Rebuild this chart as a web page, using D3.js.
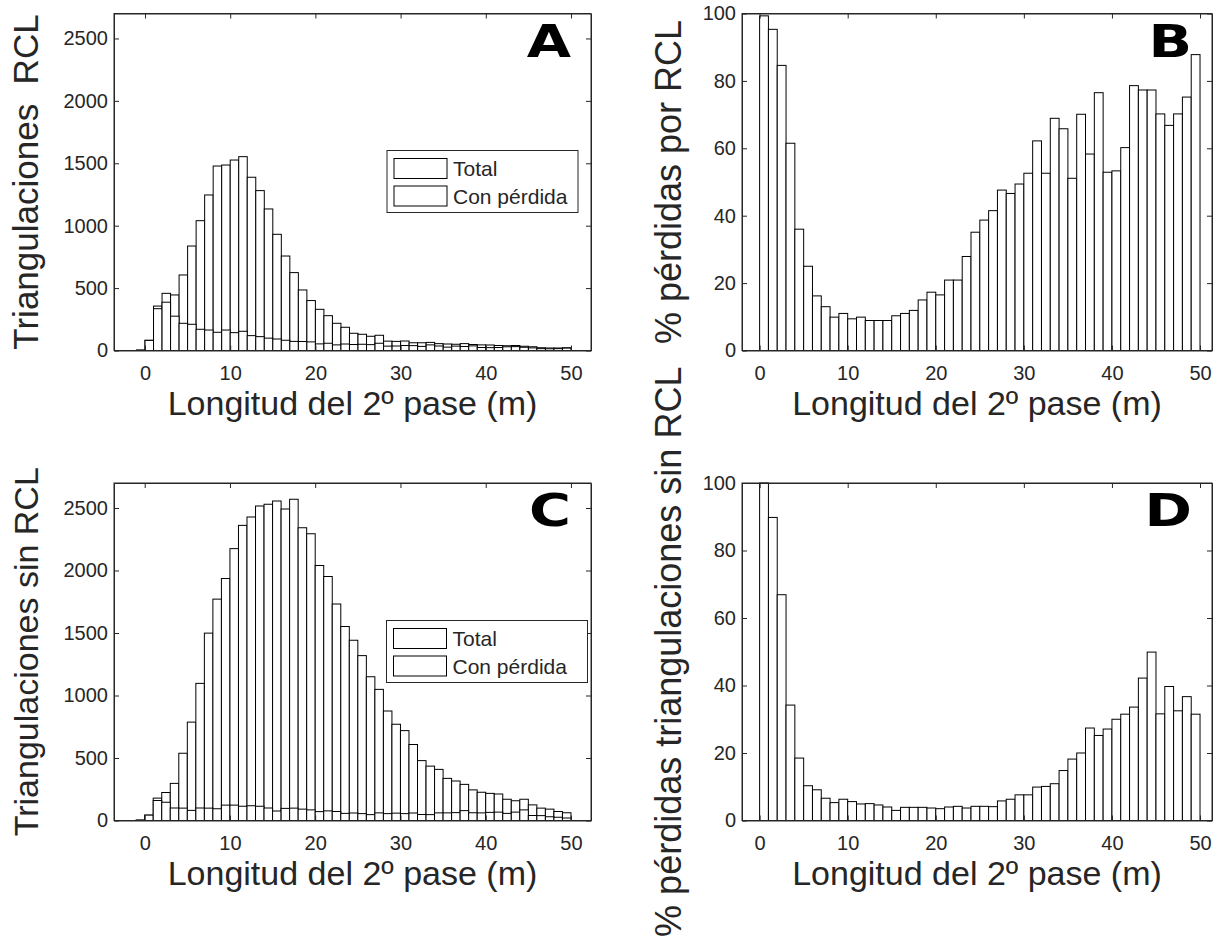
<!DOCTYPE html>
<html>
<head>
<meta charset="utf-8">
<script src="https://cdn.jsdelivr.net/npm/d3@7"></script>
<style>
  body { margin: 0; background: #fff; }
  text { font-family: "Liberation Sans", Arial, sans-serif; fill: #262626; }
  .letra { font-family: "DejaVu Sans", sans-serif; font-weight: bold; fill: #000; }
</style>
</head>
<body>
<div id="grafico"></div>
<script>
// Borde izquierdo de cada intervalo (m), ancho 1 m
const bordes = [-1, 0, 1, 2, 3, 4, 5, 6, 7, 8, 9, 10, 11, 12, 13, 14, 15, 16, 17, 18, 19,
  20, 21, 22, 23, 24, 25, 26, 27, 28, 29, 30, 31, 32, 33, 34, 35, 36, 37, 38, 39,
  40, 41, 42, 43, 44, 45, 46, 47, 48, 49]

// A: triangulaciones con RCL
const totalRCL = [5, 82, 356, 458, 445, 605, 837, 1040, 1246, 1478, 1486, 1526, 1553, 1388, 1281, 1134,
  931, 757, 624, 485, 400, 330, 279, 218, 186, 138, 130, 114, 122, 75, 73, 76, 62, 62, 65, 55,
  52, 50, 55, 48, 45, 44, 40, 38, 40, 34, 30, 22, 20, 20, 22]
const perdidaRCL = [0, 81, 335, 387, 275, 218, 210, 170, 164, 146, 164, 143, 154, 119, 111, 99,
  92, 82, 73, 72, 69, 53, 58, 45, 52, 48, 50, 47, 58, 35, 36, 40, 39, 33, 45, 36,
  27, 35, 32, 37, 24, 23, 24, 30, 31, 26, 21, 15, 14, 15, 19]

// B: % pérdidas por RCL
const pctRCL = [0, 99.3, 95.3, 84.6, 61.5, 36.0, 25.0, 16.2, 13.0, 9.9, 11.0, 9.4, 9.9, 8.9, 8.9, 8.9,
  10.3, 11.0, 11.9, 15.0, 17.3, 16.5, 20.9, 20.9, 27.9, 35.1, 38.7, 41.5, 47.6, 46.6, 49.4,
  52.6, 62.2, 52.6, 68.9, 65.8, 51.1, 70.1, 58.3, 76.5, 52.9, 53.3, 60.2, 78.6, 77.3, 77.3,
  70.2, 66.8, 70.2, 75.2, 87.8]

// C: triangulaciones sin RCL
const totalSin = [5, 43, 179, 224, 297, 538, 787, 1097, 1499, 1771, 1936, 2175, 2361, 2428, 2516, 2530,
  2556, 2492, 2570, 2342, 2294, 2040, 1952, 1732, 1552, 1442, 1319, 1150, 1049, 876, 770, 719,
  608, 479, 435, 409, 337, 316, 289, 245, 226, 217, 212, 170, 158, 170, 125, 99, 91, 72, 62]
const perdidaSin = [0, 43, 160, 146, 100, 99, 81, 100, 99, 94, 123, 123, 114, 118, 114, 100,
  76, 97, 99, 91, 85, 71, 77, 72, 57, 60, 55, 47, 61, 55, 59, 55, 60, 48, 47, 61,
  61, 63, 79, 62, 61, 65, 67, 57, 67, 85, 40, 39, 30, 26, 20]

// D: % pérdidas triangulaciones sin RCL
const pctSin = [0, 100, 89.8, 66.9, 34.2, 18.5, 10.3, 9.1, 6.6, 5.3, 6.3, 5.6, 4.9, 5.0, 4.6, 4.0,
  3.0, 3.9, 3.9, 3.9, 3.7, 3.5, 4.0, 4.2, 3.7, 4.2, 4.2, 4.1, 5.8, 6.3, 7.6, 7.6, 9.9, 10.1,
  10.9, 14.8, 18.2, 20.0, 27.4, 25.2, 27.1, 30.0, 31.5, 33.6, 42.2, 49.9, 31.6, 39.7, 32.5, 36.7, 31.5]

// Ticks
const ticksX = [0, 10, 20, 30, 40, 50]
const ticksConteo = [0, 500, 1000, 1500, 2000, 2500]
const ticksPct = [0, 20, 40, 60, 80, 100]
const leyendaTextos = ['Total', 'Con pérdida']

const ANCHO = 1220
const ALTO = 937
const GRIS = '#262626'

let svg = d3.select('#grafico').append('svg')
  .attr('width', ANCHO)
  .attr('height', ALTO)

// Dibuja un panel completo (barras, ejes, etiquetas)
function panel(cfg){
  let x = d3.scaleLinear().domain(cfg.dx).range([cfg.x0, cfg.x1])
  let y = d3.scaleLinear().domain([0, cfg.ymax]).range([cfg.y1, cfg.y0])
  let g = svg.append('g')

  // barras: primero el total, encima las de pérdida
  cfg.series.forEach(serie => {
    g.append('g').selectAll('rect')
      .data(serie)
      .enter().append('rect')
      .attr('x', (d, i) => x(bordes[i]))
      .attr('width', (d, i) => x(bordes[i] + 1) - x(bordes[i]))
      .attr('y', d => y(d))
      .attr('height', d => y(0) - y(d))
      .attr('fill', '#fff')
      .attr('stroke', '#000')
      .attr('stroke-width', 1)
  })

  // ejes con ticks hacia dentro
  g.append('g')
    .attr('transform', `translate(0,${cfg.y1})`)
    .call(d3.axisBottom(x).tickValues(ticksX).tickSizeInner(-5).tickSizeOuter(0).tickPadding(15))
    .attr('font-size', 20).attr('color', GRIS)

  g.append('g')
    .attr('transform', `translate(0,${cfg.y0})`)
    .call(d3.axisTop(x).tickValues(ticksX).tickSizeInner(-5).tickSizeOuter(0).tickFormat(''))
    .attr('color', GRIS)

  g.append('g')
    .attr('transform', `translate(${cfg.x0},0)`)
    .call(d3.axisLeft(y).tickValues(cfg.ticksY).tickSizeInner(-5).tickSizeOuter(0)
      .tickPadding(6).tickFormat(d3.format('d')))
    .attr('font-size', 20).attr('color', GRIS)

  g.append('g')
    .attr('transform', `translate(${cfg.x1},0)`)
    .call(d3.axisRight(y).tickValues(cfg.ticksY).tickSizeInner(-5).tickSizeOuter(0).tickFormat(''))
    .attr('color', GRIS)

  // caja
  g.append('rect')
    .attr('x', cfg.x0).attr('y', cfg.y0)
    .attr('width', cfg.x1 - cfg.x0).attr('height', cfg.y1 - cfg.y0)
    .attr('fill', 'none').attr('stroke', GRIS)

  // etiqueta eje X
  g.append('text')
    .attr('x', (cfg.x0 + cfg.x1) / 2)
    .attr('y', cfg.y1 + 64)
    .attr('text-anchor', 'middle')
    .attr('font-size', 34)
    .text('Longitud del 2º pase (m)')

  // etiqueta eje Y
  g.append('text')
    .attr('transform', `translate(${cfg.ylabX},${(cfg.y0 + cfg.y1) / 2}) rotate(-90)`)
    .attr('text-anchor', 'middle')
    .attr('font-size', cfg.ylabSize)
    .style('white-space', 'pre')
    .text(cfg.ylabel)

  // letra del panel (ancha)
  g.append('text')
    .attr('class', 'letra')
    .attr('transform', `translate(${cfg.x1 - 20},${cfg.y0 + 43}) scale(1.3,1)`)
    .attr('text-anchor', 'end')
    .attr('font-size', 44)
    .text(cfg.letra)

  if(cfg.leyenda) leyenda(cfg.leyenda)
}

// Leyenda con dos cuadros blancos
function leyenda(p){
  let g = svg.append('g')
  g.append('rect')
    .attr('x', p.x).attr('y', p.y)
    .attr('width', p.w).attr('height', 62)
    .attr('fill', '#fff').attr('stroke', GRIS)
  leyendaTextos.forEach((t, i) => {
    g.append('rect')
      .attr('x', p.x + 7).attr('y', p.y + 8 + i * 27.5)
      .attr('width', 53).attr('height', 20)
      .attr('fill', '#fff').attr('stroke', '#000')
    g.append('text')
      .attr('x', p.x + 66).attr('y', p.y + 25.5 + i * 27.5)
      .attr('font-size', 21)
      .attr('fill', '#000')
      .text(t)
  })
}

panel({ x0: 114, x1: 591, y0: 13.5, y1: 350.5, dx: [-3.64, 52.35], ymax: 2700,
  ticksY: ticksConteo, series: [totalRCL, perdidaRCL], ylabX: 38, ylabSize: 35,
  ylabel: 'Triangulaciones  RCL', letra: 'A',
  leyenda: { x: 387, y: 150.5, w: 191 } })

panel({ x0: 742, x1: 1212, y0: 13.5, y1: 350.5, dx: [-2.0, 51.36], ymax: 100,
  ticksY: ticksPct, series: [pctRCL], ylabX: 681, ylabSize: 36,
  ylabel: '% pérdidas por RCL', letra: 'B' })

panel({ x0: 114, x1: 591, y0: 483, y1: 820.5, dx: [-3.6, 52.35], ymax: 2700,
  ticksY: ticksConteo, series: [totalSin, perdidaSin], ylabX: 38, ylabSize: 34,
  ylabel: 'Triangulaciones sin RCL', letra: 'C',
  leyenda: { x: 386.5, y: 620.5, w: 201 } })

panel({ x0: 742, x1: 1212, y0: 483, y1: 820.5, dx: [-2.0, 51.36], ymax: 100,
  ticksY: ticksPct, series: [pctSin], ylabX: 681, ylabSize: 36,
  ylabel: '% pérdidas triangulaciones sin RCL', letra: 'D' })
</script>
</body>
</html>
